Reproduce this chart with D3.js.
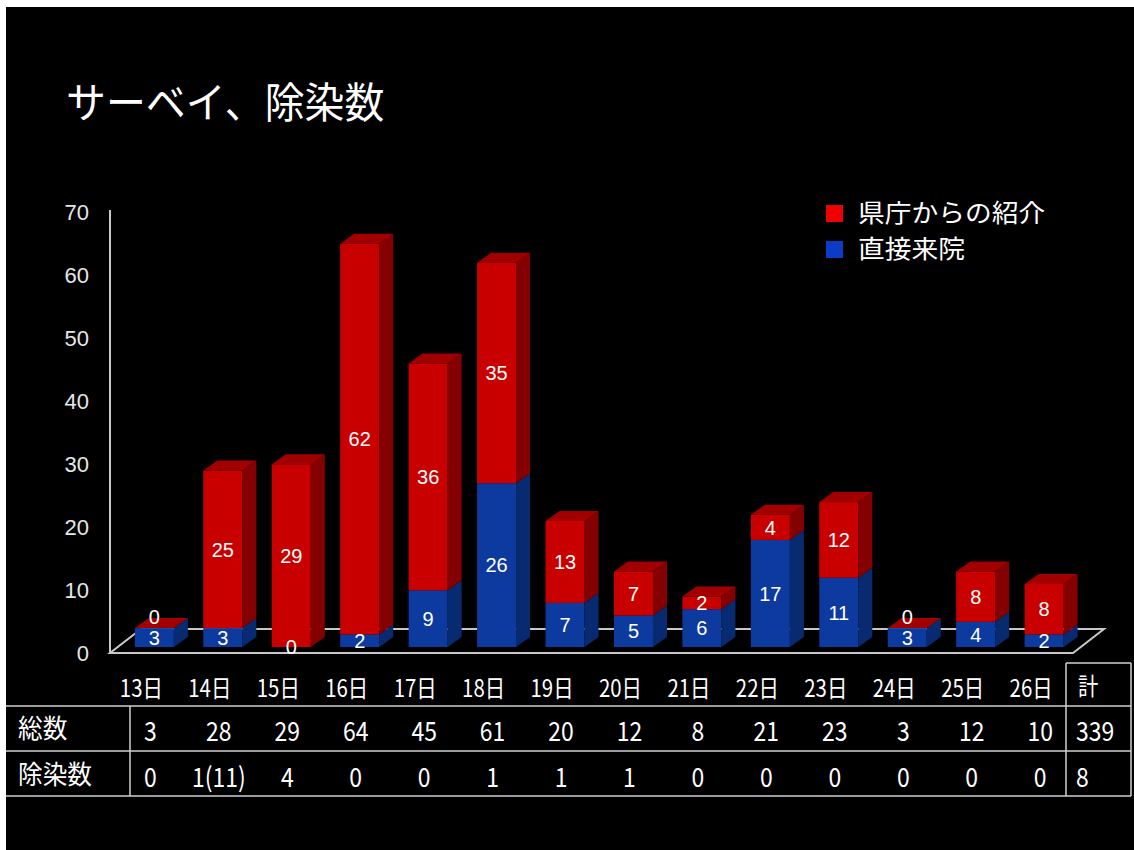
<!DOCTYPE html>
<html>
<head>
<meta charset="utf-8">
<script src="https://cdn.jsdelivr.net/npm/d3@7"></script>
<style>
  body { margin: 0; background: #fff; }
  svg { display: block; }
</style>
</head>
<body>
<svg id="chart" width="1134" height="850"></svg>
<script>
// data
const days = ['13日', '14日', '15日', '16日', '17日', '18日', '19日', '20日', '21日', '22日', '23日', '24日', '25日', '26日'];
const referral = [0, 25, 29, 62, 36, 35, 13, 7, 2, 4, 12, 0, 8, 8];   // 県庁からの紹介
const direct = [3, 3, 0, 2, 9, 26, 7, 5, 6, 17, 11, 3, 4, 2];          // 直接来院
const totals = ['3', '28', '29', '64', '45', '61', '20', '12', '8', '21', '23', '3', '12', '10'];
const decon = ['0', '1(11)', '4', '0', '0', '1', '1', '1', '0', '0', '0', '0', '0', '0'];
const totalSum = '339';
const deconSum = '8';
const yTicks = [0, 10, 20, 30, 40, 50, 60, 70];

const svg = d3.select('#chart');
const jp = '"Noto Sans CJK JP", "Noto Sans", sans-serif';
const latin = '"Liberation Sans", Arial, sans-serif';

// slide background
svg.append('rect').attr('x', 6).attr('y', 7).attr('width', 1128).attr('height', 843).attr('fill', '#000');

// title
svg.append('text')
    .attr('transform', 'translate(66,118) scale(0.95,1)')
    .attr('font-family', jp).attr('font-size', 42)
    .attr('fill', '#fff')
    .text('サーベイ、除染数');

// scales
const x = d3.scaleBand().domain(days).range([110, 1073]).paddingInner(0.43).paddingOuter(0.25);
const y = d3.scaleLinear().domain([0, 70]).range([647, 206]);   // at the bars' depth
const yFront = d3.scaleLinear().domain([0, 70]).range([653, 212]); // front plane for labels

const floorDx = 31, floorDy = -24;   // floor depth
const barShiftX = 7.75;              // bars sit a quarter into the floor
const bdx = 14, bdy = -10;           // bar depth

const colors = {
    front: ['#0d3a9e', '#c90000'],
    side: ['#082a70', '#850000'],
    top: ['#143f96', '#a20000']
};

// floor + axis
const axisColor = '#c8c8c8';
const fl = svg.append('g').attr('stroke', axisColor).attr('stroke-width', 2).attr('fill', 'none');
const fx0 = 110, fx1 = 1073, fy = yFront(0);
fl.append('path').attr('d', `M${fx0},${fy}L${fx1},${fy}L${fx1 + floorDx},${fy + floorDy}L${fx0 + floorDx},${fy + floorDy}Z`);
fl.append('line').attr('x1', fx0).attr('x2', fx0).attr('y1', fy).attr('y2', yFront(70) - 2);

// y tick labels
svg.append('g').selectAll('text')
    .data(yTicks)
    .join('text')
    .attr('x', 89)
    .attr('y', d => yFront(d))
    .attr('dy', '0.36em')
    .attr('text-anchor', 'end')
    .attr('font-family', latin).attr('font-size', 22)
    .attr('fill', '#e6e6e6')
    .text(d => d);

// stacked 3D bars
const rows = days.map((d, i) => ({ day: d, direct: direct[i], referral: referral[i] }));
const stacked = d3.stack().keys(['direct', 'referral'])(rows);

const bars = svg.append('g');
const bw = x.bandwidth();
days.forEach((d, i) => {
    const xl = x(d) + barShiftX, xr = xl + bw;
    const g = bars.append('g');
    stacked.forEach((s, k) => {
        const y0 = y(s[i][0]), y1 = y(s[i][1]);
        if (y0 - y1 > 0) {
            g.append('rect')
                .attr('x', xl).attr('y', y1).attr('width', bw).attr('height', y0 - y1)
                .attr('fill', colors.front[k]);
            g.append('path')
                .attr('d', `M${xr},${y1}L${xr},${y0}L${xr + bdx},${y0 + bdy}L${xr + bdx},${y1 + bdy}Z`)
                .attr('fill', colors.side[k]);
        }
        if (k === stacked.length - 1) {
            g.append('path')
                .attr('d', `M${xl},${y1}L${xr},${y1}L${xr + bdx},${y1 + bdy}L${xl + bdx},${y1 + bdy}Z`)
                .attr('fill', colors.top[k]);
        }
    });
    // value labels (a zero on top of a short bar is nudged up, as on the slide)
    stacked.forEach((s, k) => {
        const y0 = y(s[i][0]), y1 = y(s[i][1]);
        let ly = (y0 + y1) / 2;
        if (k === 1 && s[i].data[s.key] === 0 && s[i][0] <= 3) ly -= 11;
        g.append('text')
            .attr('x', xl + bw / 2)
            .attr('y', ly)
            .attr('dy', '0.36em')
            .attr('text-anchor', 'middle')
            .attr('font-family', latin).attr('font-size', 20)
            .attr('fill', '#fff')
            .text(s[i].data[s.key]);
    });
});

// legend
const legend = svg.append('g');
const legendColors = ['#f00000', '#0a3cc8'];
['県庁からの紹介', '直接来院'].forEach((name, i) => {
    const ly = 213 + i * 36;
    legend.append('rect')
        .attr('x', 826).attr('y', ly - 8).attr('width', 17).attr('height', 17)
        .attr('fill', legendColors[i]);
    legend.append('text')
        .attr('transform', `translate(858,${ly}) scale(1.07,1)`)
        .attr('dy', '0.36em')
        .attr('font-family', jp).attr('font-size', 25)
        .attr('fill', '#fff')
        .text(name);
});

// narrow text helper for the table (slide uses a condensed gothic)
function narrowText(parent, tx, ty, str, size, anchor, sx) {
    parent.append('text')
        .attr('transform', `translate(${tx},${ty}) scale(${sx || 0.85},1)`)
        .attr('dy', '0.36em')
        .attr('text-anchor', anchor)
        .attr('font-family', jp).attr('font-size', size)
        .attr('fill', '#fff')
        .text(str);
}

// table
const table = svg.append('g');
const lineColor = '#d0d0d0';
const rowTop = 706, rowMid = 751, rowBot = 796, boxRight = 1131, boxLeft = 1066;
const tl = table.append('g').attr('stroke', lineColor).attr('stroke-width', 1.5);
tl.append('line').attr('x1', 6).attr('x2', boxRight).attr('y1', rowTop).attr('y2', rowTop);
tl.append('line').attr('x1', 6).attr('x2', boxRight).attr('y1', rowMid).attr('y2', rowMid);
tl.append('line').attr('x1', 6).attr('x2', boxRight).attr('y1', rowBot).attr('y2', rowBot);
tl.append('line').attr('x1', 130).attr('x2', 130).attr('y1', rowTop).attr('y2', rowBot);
tl.append('line').attr('x1', boxLeft).attr('x2', boxLeft).attr('y1', 663).attr('y2', rowBot);
tl.append('line').attr('x1', boxRight).attr('x2', boxRight).attr('y1', 663).attr('y2', rowBot);
tl.append('line').attr('x1', boxLeft).attr('x2', boxRight).attr('y1', 663).attr('y2', 663);

// category header row
days.forEach(d => narrowText(table, x(d) + bw / 2 + barShiftX - 13, 688, d, 24, 'middle'));
narrowText(table, 1078, 686, '計', 24, 'start');

// rows
narrowText(table, 18, 729, '総数', 26, 'start', 0.95);
narrowText(table, 18, 775, '除染数', 26, 'start', 0.95);
days.forEach((d, i) => {
    const cx = x(d) + bw / 2 + barShiftX - 4;
    narrowText(table, cx, 731, totals[i], 27, 'middle');
    narrowText(table, cx, 777, decon[i], 27, 'middle');
});
narrowText(table, 1076, 731, totalSum, 27, 'start');
narrowText(table, 1076, 777, deconSum, 27, 'start');
</script>
</body>
</html>
